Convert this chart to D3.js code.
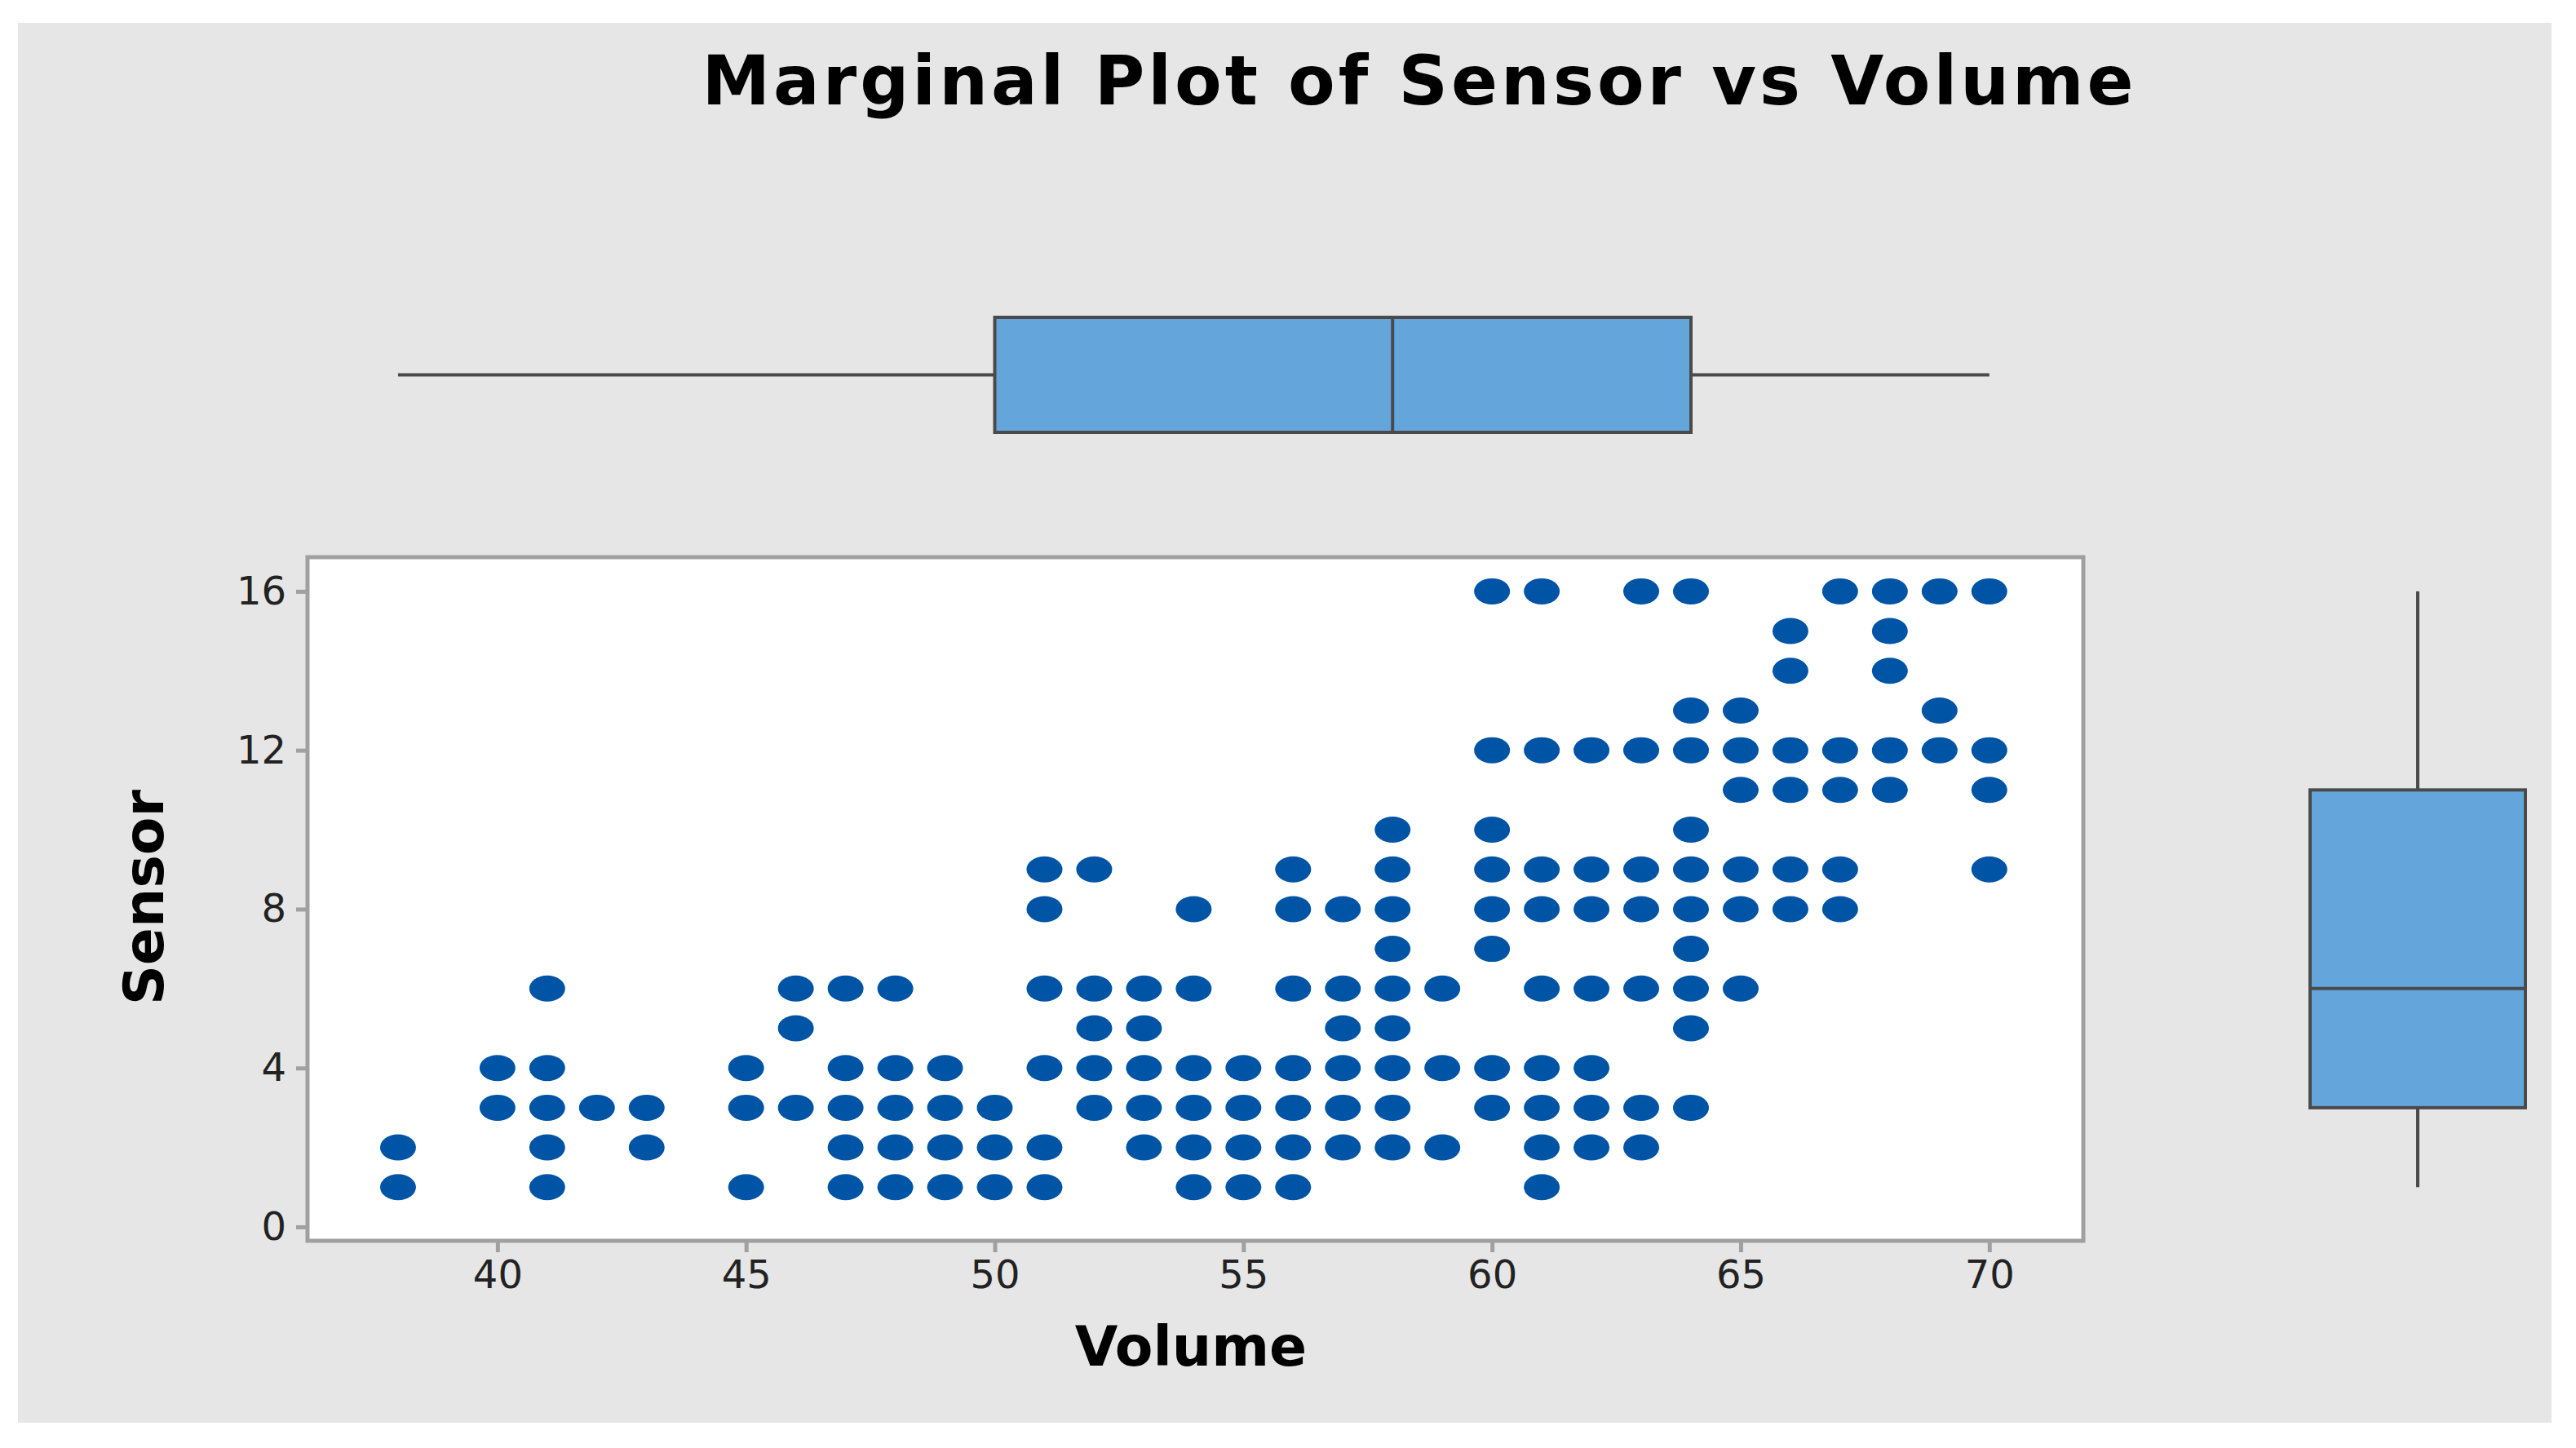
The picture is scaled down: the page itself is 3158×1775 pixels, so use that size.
<!DOCTYPE html>
<html>
<head>
<meta charset="utf-8">
<script src="https://cdn.jsdelivr.net/npm/d3@7"></script>
<style>
  body { margin: 0; background: #fff; }
  text { font-family: "DejaVu Sans", sans-serif; }
</style>
</head>
<body>
<svg id="chart" width="3158" height="1775"></svg>
<script>
// Volume value for each column and the Sensor values found at it
const volumes = [38, 40, 41, 42, 43, 45, 46, 47, 48, 49, 50, 51, 52, 53, 54, 55, 56, 57, 58, 59, 60, 61, 62, 63, 64, 65, 66, 67, 68, 69, 70];
const sensorsAt = [
  [1, 2], [3, 4], [1, 2, 3, 4, 6], [3], [2, 3], [1, 3, 4], [3, 5, 6],
  [1, 2, 3, 4, 6], [1, 2, 3, 4, 6], [1, 2, 3, 4], [1, 2, 3], [1, 2, 4, 6, 8, 9],
  [3, 4, 5, 6, 9], [2, 3, 4, 5, 6], [1, 2, 3, 4, 6, 8], [1, 2, 3, 4],
  [1, 2, 3, 4, 6, 8, 9], [2, 3, 4, 5, 6, 8], [2, 3, 4, 5, 6, 7, 8, 9, 10],
  [2, 4, 6], [3, 4, 7, 8, 9, 10, 12, 16], [1, 2, 3, 4, 6, 8, 9, 12, 16],
  [2, 3, 4, 6, 8, 9, 12], [2, 3, 6, 8, 9, 12, 16], [3, 5, 6, 7, 8, 9, 10, 12, 13, 16],
  [6, 8, 9, 11, 12, 13], [8, 9, 11, 12, 14, 15], [8, 9, 11, 12, 16],
  [11, 12, 14, 15, 16], [12, 13, 16], [9, 11, 12, 16]
];
// five-number summaries: min, Q1, median, Q3, max
const volumeBox = [38, 50, 58, 64, 70];
const sensorBox = [1, 3, 6, 11, 16];
const xTicks = [40, 45, 50, 55, 60, 65, 70];
const yTicks = [0, 4, 8, 12, 16];

const points = [];
volumes.forEach((v, i) => sensorsAt[i].forEach((s) => points.push({ v, s })));

const svg = d3.select("#chart");
svg.append("rect").attr("x", 22).attr("y", 28).attr("width", 3106).attr("height", 1716).attr("fill", "#e6e6e6");

svg.append("text").attr("x", 1740).attr("y", 128).attr("text-anchor", "middle")
  .style("letter-spacing", "4px")
  .style("font-size", "84px").style("font-weight", "bold").text("Marginal Plot of Sensor vs Volume");

const plot = { left: 377, right: 2554, top: 683, bottom: 1521 };
const x = d3.scaleLinear().domain([36.18, 71.89]).range([plot.left, plot.right]);
const y = d3.scaleLinear().domain([-0.35, 16.86]).range([plot.bottom, plot.top]);

svg.append("rect").attr("x", plot.left).attr("y", plot.top)
  .attr("width", plot.right - plot.left).attr("height", plot.bottom - plot.top)
  .attr("fill", "#fff").attr("stroke", "#a0a0a0").attr("stroke-width", 5);

const xAxis = svg.append("g").attr("transform", `translate(0,${plot.bottom})`)
  .call(d3.axisBottom(x).tickValues(xTicks).tickSize(14).tickPadding(10));
const yAxis = svg.append("g").attr("transform", `translate(${plot.left},0)`)
  .call(d3.axisLeft(y).tickValues(yTicks).tickSize(14).tickPadding(12));
[xAxis, yAxis].forEach((g) => {
  g.select(".domain").remove();
  g.selectAll(".tick line").attr("stroke", "#a0a0a0").attr("stroke-width", 5);
  g.selectAll(".tick text").style("font-size", "48px").attr("fill", "#222")
    .style("font-family", "'DejaVu Sans', sans-serif");
});

svg.append("text").attr("x", 1460).attr("y", 1674).attr("text-anchor", "middle")
  .style("font-size", "68px").style("font-weight", "bold").text("Volume");
svg.append("text").attr("transform", "translate(200,1100) rotate(-90)").attr("text-anchor", "middle")
  .style("font-size", "68px").style("font-weight", "bold").text("Sensor");

svg.append("g").selectAll("ellipse").data(points).enter().append("ellipse")
  .attr("cx", (d) => x(d.v)).attr("cy", (d) => y(d.s))
  .attr("rx", 22).attr("ry", 16).attr("fill", "#0054a6");

// top marginal boxplot (Volume)
const bx = { top: 389, bottom: 530 };
const bmid = (bx.top + bx.bottom) / 2;
const topBox = svg.append("g");
topBox.append("line").attr("x1", x(volumeBox[0])).attr("x2", x(volumeBox[1])).attr("y1", bmid).attr("y2", bmid);
topBox.append("line").attr("x1", x(volumeBox[3])).attr("x2", x(volumeBox[4])).attr("y1", bmid).attr("y2", bmid);
topBox.append("rect").attr("x", x(volumeBox[1])).attr("y", bx.top)
  .attr("width", x(volumeBox[3]) - x(volumeBox[1])).attr("height", bx.bottom - bx.top).attr("fill", "#64a6dc");
topBox.append("line").attr("x1", x(volumeBox[2])).attr("x2", x(volumeBox[2])).attr("y1", bx.top).attr("y2", bx.bottom);
topBox.selectAll("line, rect").attr("stroke", "#4a4a4a").attr("stroke-width", 4);

// right marginal boxplot (Sensor)
const by = { left: 2832, right: 3096 };
const cmid = (by.left + by.right) / 2;
const rightBox = svg.append("g");
rightBox.append("line").attr("x1", cmid).attr("x2", cmid).attr("y1", y(sensorBox[0])).attr("y2", y(sensorBox[1]));
rightBox.append("line").attr("x1", cmid).attr("x2", cmid).attr("y1", y(sensorBox[3])).attr("y2", y(sensorBox[4]));
rightBox.append("rect").attr("x", by.left).attr("y", y(sensorBox[3]))
  .attr("width", by.right - by.left).attr("height", y(sensorBox[1]) - y(sensorBox[3])).attr("fill", "#64a6dc");
rightBox.append("line").attr("x1", by.left).attr("x2", by.right).attr("y1", y(sensorBox[2])).attr("y2", y(sensorBox[2]));
rightBox.selectAll("line, rect").attr("stroke", "#4a4a4a").attr("stroke-width", 4);
</script>
</body>
</html>
